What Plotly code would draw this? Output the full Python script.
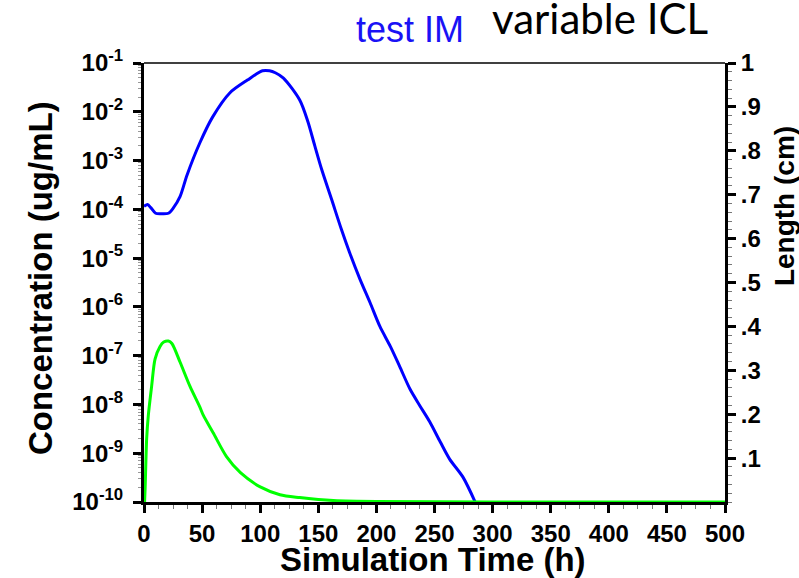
import plotly.graph_objects as go

# ---- data ----
blue_t = [0, 3, 6, 10, 15, 21, 25, 31, 37, 48, 59, 74, 89, 102, 108, 113, 120, 134, 141, 147,
          153, 161.5, 170, 177, 186, 194.5, 203, 212, 220, 229, 237.5, 246, 255, 263, 274.5, 285]
blue_log = [-3.94, -3.90, -3.97, -4.08, -4.09, -4.08, -3.98, -3.74, -3.30, -2.64, -2.11, -1.61,
            -1.35, -1.16, -1.16, -1.20, -1.31, -1.76, -2.20, -2.70,
            -3.19, -3.80, -4.42, -4.89, -5.44, -5.91, -6.40, -6.81, -7.22, -7.69, -8.03, -8.36,
            -8.77, -9.12, -9.49, -10.0]
blue_conc = [10 ** v for v in blue_log]

green_t = [0.5, 1, 2.3, 3.7, 6.6, 9.5, 13.8, 17, 21, 24, 31, 39.6, 48, 51, 59.5, 71, 83, 100,
           117, 134, 150, 163, 200, 300, 400, 500]
green_log = [-10.0, -9.7, -8.7, -8.23, -7.62, -7.07, -6.81, -6.72, -6.70, -6.75, -7.13, -7.63,
             -8.05, -8.22, -8.58, -9.07, -9.40, -9.69, -9.85, -9.91, -9.95, -9.97, -9.99,
             -10.0, -10.0, -10.0]
green_conc = [10 ** v for v in green_log]

x_ticks = [0, 50, 100, 150, 200, 250, 300, 350, 400, 450, 500]
y_tickvals = [1e-10, 1e-9, 1e-8, 1e-7, 1e-6, 1e-5, 1e-4, 1e-3, 1e-2, 1e-1]
y_ticktext = ["10<sup>-10</sup>", "10<sup>-9</sup>", "10<sup>-8</sup>", "10<sup>-7</sup>",
              "10<sup>-6</sup>", "10<sup>-5</sup>", "10<sup>-4</sup>", "10<sup>-3</sup>",
              "10<sup>-2</sup>", "10<sup>-1</sup>"]
y2_tickvals = [0.1, 0.2, 0.3, 0.4, 0.5, 0.6, 0.7, 0.8, 0.9, 1.0]
y2_ticktext = [".1", ".2", ".3", ".4", ".5", ".6", ".7", ".8", ".9", "1"]

FONT = "Liberation Sans, Arial, sans-serif"
tickfont = dict(family=FONT, size=24, color="black", weight="bold")

fig = go.Figure()
fig.add_trace(go.Scatter(x=blue_t, y=blue_conc, mode="lines",
                         line=dict(color="#0000FF", width=3, shape="spline", smoothing=0.8),
                         showlegend=False))
fig.add_trace(go.Scatter(x=green_t, y=green_conc, mode="lines",
                         line=dict(color="#00FF00", width=3, shape="spline", smoothing=0.8),
                         showlegend=False))
fig.add_trace(go.Scatter(x=[None], y=[None], yaxis="y2", mode="lines", showlegend=False,
                         hoverinfo="skip"))

fig.update_layout(
    width=799, height=578,
    margin=dict(l=144, r=74, t=63, b=76, autoexpand=False),
    paper_bgcolor="white", plot_bgcolor="white",
    xaxis=dict(range=[0, 500], tickvals=x_ticks, ticks="outside", ticklen=8, tickwidth=3,
               tickcolor="black", showline=True, linecolor="black", linewidth=3,
               showgrid=False, zeroline=False, tickfont=tickfont, layer="below traces",
               automargin=False,
               minor=dict(dtick=12.5, ticks="outside", ticklen=4, tickwidth=1,
                          tickcolor="#777777", showgrid=False)),
    yaxis=dict(type="log", range=[-10, -1], tickvals=y_tickvals, ticktext=y_ticktext,
               ticks="outside", ticklen=8, tickwidth=3, tickcolor="black",
               showline=True, linecolor="black", linewidth=3, showgrid=False,
               zeroline=False, tickfont=tickfont, layer="below traces", automargin=False,
               ticklabelstandoff=5,
               minor=dict(dtick="D1", ticks="outside", ticklen=3, tickwidth=1,
                          tickcolor="#999999", showgrid=False)),
    yaxis2=dict(overlaying="y", side="right", range=[0, 1], tickvals=y2_tickvals,
                ticktext=y2_ticktext, ticks="outside", ticklen=8, tickwidth=3,
                tickcolor="black", showline=True, linecolor="black", linewidth=3,
                showgrid=False, zeroline=False, tickfont=tickfont, automargin=False,
                minor=dict(dtick=0.02, ticks="outside", ticklen=4, tickwidth=1,
                           tickcolor="#777777", showgrid=False)),
    shapes=[dict(type="line", xref="paper", yref="paper", x0=0, x1=1, y0=1, y1=1,
                 line=dict(color="black", width=1.5))],
    annotations=[
        dict(text="Concentration (ug/mL)", xref="paper", yref="paper", x=-0.179, y=0.51,
             textangle=-90, showarrow=False, xanchor="center", yanchor="middle",
             font=dict(family=FONT, size=33, color="black", weight="bold")),
        dict(text="Length (cm)", xref="paper", yref="paper", x=1.1015, y=0.674,
             textangle=-90, showarrow=False, xanchor="center", yanchor="middle",
             font=dict(family=FONT, size=28, color="black", weight="bold")),
        dict(text="Simulation Time (h)", xref="paper", yref="paper", x=0.498, y=-0.131,
             showarrow=False, xanchor="center", yanchor="middle",
             font=dict(family=FONT, size=33, color="black", weight="bold")),
        dict(text="test IM", xref="paper", yref="paper", x=0.4578, y=1.0755,
             showarrow=False, xanchor="center", yanchor="middle",
             font=dict(family=FONT, size=36, color="#1A12F5")),
        dict(text="variable ICL", xref="paper", yref="paper", x=0.785, y=1.103,
             showarrow=False, xanchor="center", yanchor="middle",
             font=dict(family="Lato, Open Sans, sans-serif", size=42, color="black")),
    ],
)

fig.write_html("out.html", config={"displayModeBar": False},
               post_script="document.body.style.margin='0';document.body.style.overflow='hidden';")
